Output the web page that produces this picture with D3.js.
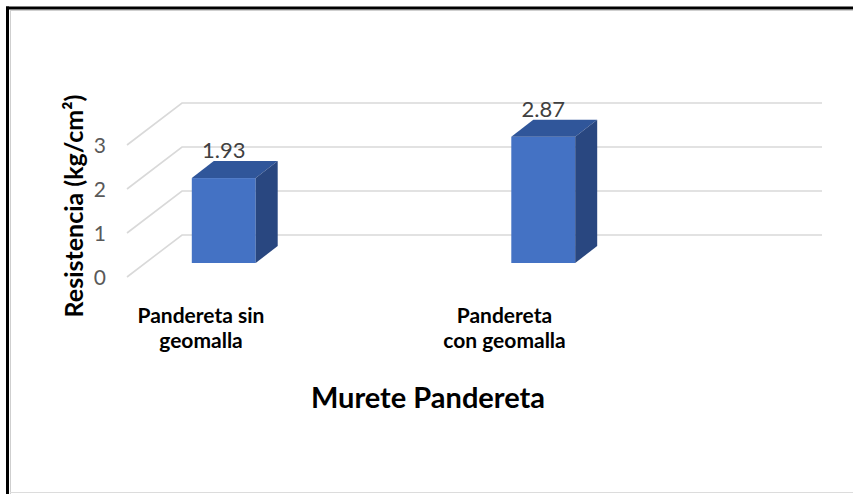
<!DOCTYPE html>
<html>
<head>
<meta charset="utf-8">
<script src="https://cdn.jsdelivr.net/npm/d3@7/dist/d3.min.js"></script>
<style>
  html, body { margin: 0; padding: 0; background: #fff; overflow: hidden; }
  svg { display: block; }
  text { font-family: Lato, "Noto Sans", sans-serif; }
</style>
</head>
<body>
<svg id="chart" width="853" height="494"></svg>
<script>
// Compressive strength of masonry wallettes
const categories = ["Pandereta sin geomalla", "Pandereta con geomalla"];
const categoryLines = [["Pandereta sin", "geomalla"], ["Pandereta", "con geomalla"]];
const values = [1.93, 2.87];
const yTicks = [0, 1, 2, 3];
const valueLabels = ["1.93", "2.87"];
const yTitle = "Resistencia (kg/cm²)";
const xTitle = "Murete Pandereta";

const W = 853, H = 494;
const svg = d3.select("#chart");

// frame
svg.append("rect").attr("x", 0).attr("y", 0).attr("width", W).attr("height", H).attr("fill", "#fff");
svg.append("line").attr("x1", 10).attr("x2", W).attr("y1", 10.5).attr("y2", 10.5).attr("stroke", "#cfcfcf").attr("stroke-width", 1);
svg.append("line").attr("x1", 10.5).attr("x2", 10.5).attr("y1", 10).attr("y2", H).attr("stroke", "#cfcfcf").attr("stroke-width", 1);
svg.append("line").attr("x1", 10).attr("x2", W).attr("y1", 492.5).attr("y2", 492.5).attr("stroke", "#dcdcdc").attr("stroke-width", 1);
svg.append("line").attr("x1", 6).attr("x2", W).attr("y1", 8).attr("y2", 8).attr("stroke", "#000").attr("stroke-width", 3);
svg.append("line").attr("x1", 7.5).attr("x2", 7.5).attr("y1", 6.5).attr("y2", H).attr("stroke", "#000").attr("stroke-width", 3);

// 3D layout: floor front edge, back wall, depth offsets
const frontX = 127, backX0 = 182, backX1 = 822;
const frontBase = 277, backBase = 235;
const barBase = 263, barDX = 22, barDY = 17;

const h = d3.scaleLinear().domain([0, 3]).range([0, 132]);

const x = d3.scaleBand().domain(categories).range([64, 703])
  .paddingInner(0.8).paddingOuter(0.4);
const xLabel = d3.scalePoint().domain(categories).range([201, 504.5]);

// gridlines (side wall diagonal + back wall)
const grid = svg.append("g");
yTicks.forEach(v => {
  const p = d3.path();
  p.moveTo(frontX, frontBase - h(v));
  p.lineTo(backX0, backBase - h(v));
  p.lineTo(backX1, backBase - h(v));
  grid.append("path").attr("d", p.toString())
    .attr("fill", "none").attr("stroke", "#d9d9d9").attr("stroke-width", 1.6);
});

// value axis tick labels
svg.append("g").selectAll("text").data(yTicks).join("text")
  .attr("x", 106).attr("y", d => frontBase - h(d))
  .attr("dy", "0.36em")
  .attr("text-anchor", "end")
  .attr("fill", "#595959").attr("font-size", 21)
  .text(d => d);

// bars
const bars = svg.append("g").selectAll("g").data(categories).join("g");
const bw = x.bandwidth();
bars.each(function(c, i) {
  const g = d3.select(this);
  const x0 = x(c), top = barBase - h(values[i]);
  g.append("rect").attr("x", x0).attr("y", top).attr("width", bw).attr("height", h(values[i]))
    .attr("fill", "#4472c4");
  g.append("polygon")
    .attr("points", [[x0, top], [x0 + barDX, top - barDY], [x0 + bw + barDX, top - barDY], [x0 + bw, top]].join(" "))
    .attr("fill", "#30569a");
  g.append("polygon")
    .attr("points", [[x0 + bw, top], [x0 + bw + barDX, top - barDY], [x0 + bw + barDX, barBase - barDY], [x0 + bw, barBase]].join(" "))
    .attr("fill", "#294780");
  g.append("text")
    .attr("x", x0 + bw / 2).attr("y", top - barDY - 3)
    .attr("text-anchor", "middle")
    .attr("fill", "#404040").attr("font-size", 22)
    .text(valueLabels[i]);
});

// category labels, two lines each
const cat = svg.append("g").selectAll("g").data(categories).join("g");
cat.each(function(c, i) {
  const g = d3.select(this);
  categoryLines[i].forEach((line, j) => {
    g.append("text")
      .attr("x", xLabel(c)).attr("y", 323 + j * 25)
      .attr("text-anchor", "middle")
      .attr("fill", "#000").attr("font-size", 21).attr("font-weight", "bold")
      .text(line);
  });
});

// axis titles
svg.append("text")
  .attr("transform", "translate(83,206) rotate(-90)")
  .attr("text-anchor", "middle")
  .attr("fill", "#000").attr("font-size", 25).attr("font-weight", "bold")
  .text(yTitle);

svg.append("text")
  .attr("x", 428).attr("y", 408)
  .attr("text-anchor", "middle")
  .attr("fill", "#000").attr("font-size", 29).attr("font-weight", "bold")
  .text(xTitle);
</script>
</body>
</html>
